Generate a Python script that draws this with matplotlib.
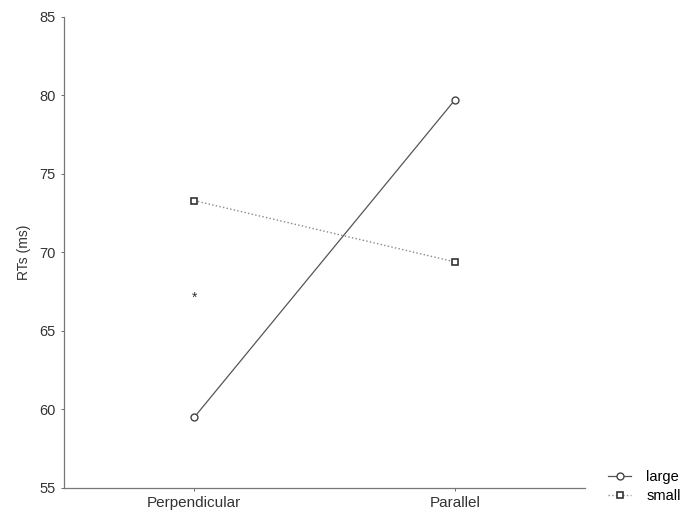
import matplotlib.pyplot as plt

plt.rcParams['font.family'] = ['Liberation Sans', 'DejaVu Sans']

# data
conditions = ["Perpendicular", "Parallel"]
large_rt = [59.5, 79.7]
small_rt = [73.3, 69.4]
star_y = 67.1
y_ticks = [55, 60, 65, 70, 75, 80, 85]

fig = plt.figure(figsize=(6.87, 5.12), dpi=100)
ax = fig.add_axes([0.0932, 0.047, 0.7583, 0.920])

x = list(range(len(conditions)))
ax.plot(x, large_rt, '-', color='#555555', lw=0.9, marker='o', ms=5,
        mfc='white', mec='#444444', mew=1.0, label='large')
ax.plot(x, small_rt, ':', color='#888888', lw=1.0, marker='s', ms=5,
        mfc='white', mec='#333333', mew=1.2, label='small')
ax.text(0, star_y, '*', ha='center', va='center', fontsize=10, color='#333333')

ax.set_xlim(-0.5, 1.5)
ax.set_ylim(55, 85)
ax.set_xticks(x)
ax.set_xticklabels(conditions)
ax.set_yticks(y_ticks)
ax.set_ylabel("RTs (ms)", fontsize=10, color='#333333', labelpad=6)
ax.tick_params(axis='x', labelsize=11, colors='#333333', length=2, width=0.5, pad=4)
ax.tick_params(axis='y', labelsize=10.5, colors='#333333', length=2, width=0.5, pad=4)
for s in ['top', 'right']:
    ax.spines[s].set_visible(False)
for s in ['left', 'bottom']:
    ax.spines[s].set_color('#777777')
    ax.spines[s].set_linewidth(0.9)

fig.legend(loc='center left', bbox_to_anchor=(0.881, 0.05), frameon=False,
           fontsize=10.5, handlelength=1.6, labelspacing=0.35, handletextpad=1.0,
           borderaxespad=0, borderpad=0.2)

plt.savefig("out.png", dpi=100)
